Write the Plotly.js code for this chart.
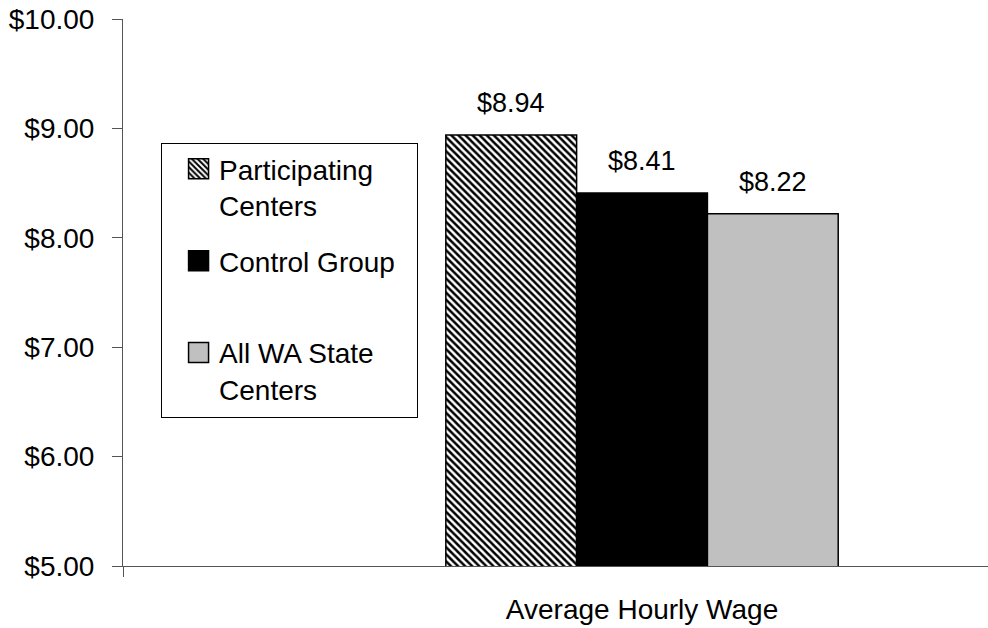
<!DOCTYPE html>
<html>
<head>
<meta charset="utf-8">
<script src="https://cdn.plot.ly/plotly-3.0.1.min.js"></script>
<style>html,body{margin:0;padding:0;background:#fff;}#chart{width:988px;height:628px;}</style>
</head>
<body>
<div id="chart"></div>
<script>
const categories = ['Average Hourly Wage'];
const seriesNames = ['Participating<br>Centers', 'Control Group<br> ', 'All WA State<br>Centers'];
const participating = [8.94];
const controlGroup = [8.41];
const allWAState = [8.22];
const yTickVals = [5, 6, 7, 8, 9, 10];
const yTickLabels = ['$5.00', '$6.00', '$7.00', '$8.00', '$9.00', '$10.00'];

const FONT = 'Arial, "Liberation Sans", Helvetica, sans-serif';
const BARGAP = 0.622;
const seriesValues = [participating, controlGroup, allWAState];
const slot = (1 - BARGAP) / seriesValues.length;

const traces = [
  {
    type: 'bar', name: seriesNames[0], x: categories, y: participating, legendgroup: 'a',
    marker: {color: '#ffffff', line: {color: '#000000', width: 1.5},
      pattern: {shape: '\\', fgcolor: '#000000', bgcolor: '#ffffff', size: 5, solidity: 0.5}},
    hoverinfo: 'y'
  },
  {
    type: 'bar', name: seriesNames[1], x: categories, y: controlGroup, legendgroup: 'b',
    marker: {color: '#000000', line: {color: '#000000', width: 1.5}},
    hoverinfo: 'y'
  },
  {
    type: 'bar', name: seriesNames[2], x: categories, y: allWAState, legendgroup: 'c',
    marker: {color: '#c0c0c0', line: {color: '#000000', width: 1.5}},
    hoverinfo: 'y'
  }
];

const annotations = [];
seriesValues.forEach((vals, i) => {
  vals.forEach((v, j) => {
    annotations.push({
      x: j + (i - (seriesValues.length - 1) / 2) * slot,
      y: v, xref: 'x', yref: 'y',
      text: '$' + v.toFixed(2), showarrow: false,
      yanchor: 'bottom', yshift: 15,
      font: {family: FONT, size: 27, color: '#000'}
    });
  });
});

const layout = {
  width: 988, height: 628,
  margin: {l: 123, r: 0, t: 19, b: 62},
  paper_bgcolor: '#fff', plot_bgcolor: '#fff',
  barmode: 'group', bargap: BARGAP, bargroupgap: 0,
  font: {family: FONT, size: 28, color: '#000'},
  showlegend: true,
  legend: {
    x: 0.044, y: 0.773, xanchor: 'left', yanchor: 'top',
    bgcolor: '#fff', bordercolor: '#000', borderwidth: 1,
    font: {family: FONT, size: 28, color: '#000'},
    traceorder: 'grouped', tracegroupgap: 16, valign: 'top',
    itemwidth: 47
  },
  xaxis: {
    type: 'category', range: [-0.5, 0.3333],
    showline: true, linecolor: '#555', linewidth: 1,
    ticks: 'outside', ticklen: 10, tickcolor: '#555', tickson: 'boundaries',
    showgrid: false, zeroline: false, fixedrange: true,
    ticklabelstandoff: 18,
    tickfont: {family: FONT, size: 28, color: '#000'}
  },
  yaxis: {
    range: [5, 10], tickvals: yTickVals, ticktext: yTickLabels,
    showline: true, linecolor: '#555', linewidth: 1,
    ticks: 'outside', ticklen: 10, tickcolor: '#555',
    showgrid: false, zeroline: false, fixedrange: true,
    ticklabelstandoff: 12,
    tickfont: {family: FONT, size: 28, color: '#000'}
  },
  annotations: annotations
};

Plotly.newPlot('chart', traces, layout, {displayModeBar: false, staticPlot: true}).then(gd => {
  // enlarge legend swatches and box to match the reference's legend key size
  gd.querySelectorAll('.legend .legendpoints path').forEach(p => {
    p.setAttribute('d', 'M18,10H-2V-10H18Z');
  });
  const bg = gd.querySelector('.legend rect.bg');
  if (bg) {
    bg.setAttribute('width', 256);
    bg.setAttribute('height', parseFloat(bg.getAttribute('height')) + 3);
  }
});
</script>
</body>
</html>
